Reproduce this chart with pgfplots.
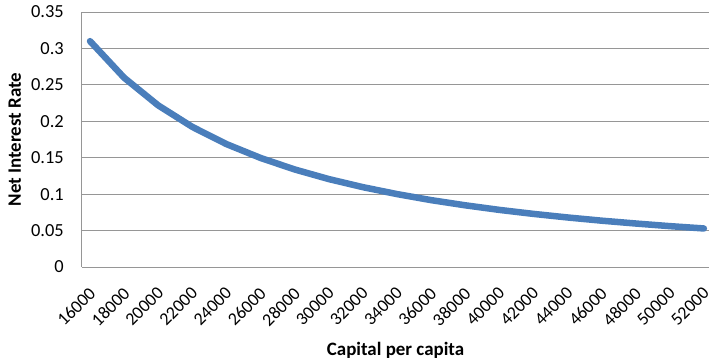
\documentclass[border=0pt]{standalone}
\usepackage{pgfplots}
\pgfplotsset{compat=1.18}
\usepackage{fontspec}
\setmainfont{Carlito}

\definecolor{lineblue}{RGB}{74,126,187}
\definecolor{gridgray}{RGB}{150,150,150}

\pgfplotstableread{
k      r
16000  0.3100
18000  0.2598
20000  0.2218
22000  0.1923
24000  0.1687
26000  0.1497
28000  0.1339
30000  0.1207
32000  0.1096
34000  0.1001
36000  0.0918
38000  0.0847
40000  0.0784
42000  0.0729
44000  0.0680
46000  0.0636
48000  0.0597
50000  0.0561
52000  0.0529
}\rates

\begin{document}
\begin{tikzpicture}
\useasboundingbox (-82bp,-92bp) rectangle (628bp,267bp);
\begin{axis}[
  scale only axis,
  width=627bp, height=255bp,
  xmin=15530, xmax=52300,
  ymin=0, ymax=0.35,
  axis x line*=bottom,
  axis y line*=left,
  axis line style={draw=gridgray, line width=1bp},
  x axis line style={-}, y axis line style={-},
  xtick={16000,18000,...,52000},
  scaled x ticks=false,
  ytick={0,0.05,0.1,0.15,0.2,0.25,0.3,0.35},
  yticklabels={0,0.05,0.1,0.15,0.2,0.25,0.3,0.35},
  major tick length=0pt,
  ymajorgrids,
  grid style={draw=gridgray, line width=1bp},
  /pgf/number format/assume math mode=true,
  /pgf/number format/1000 sep={},
  tick label style={text=black},
  x tick label style={font=\fontsize{18}{20}\selectfont, xshift=-2bp, yshift=-19bp, rotate=45, anchor=north east, inner sep=0pt},
  y tick label style={font=\fontsize{18.5}{21}\selectfont, inner sep=0pt, xshift=-18bp},
  xlabel={\bfseries Capital per capita},
  ylabel={\bfseries Net Interest Rate},
  label style={font=\fontsize{19}{22}\selectfont\bfseries},
  xlabel style={at={(axis description cs:0.5,-0.3255)}, anchor=center},
  ylabel style={at={(axis description cs:-0.107,0.5)}, anchor=center},
  clip=false,
]
\addplot[lineblue, line width=6.5bp, line cap=round, line join=round] table[x=k, y=r] {\rates};
\end{axis}
\end{tikzpicture}
\end{document}
